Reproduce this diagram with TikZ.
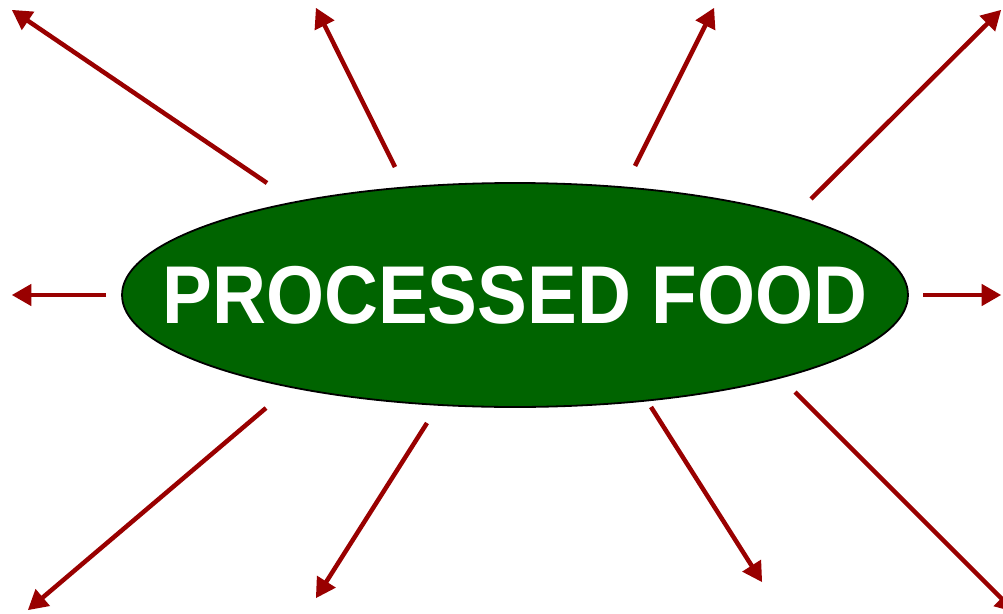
\documentclass[tikz,border=0pt]{standalone}
\usepackage{fontspec}
\setmainfont{Liberation Sans}
\usepackage{tikz}
\usetikzlibrary{arrows,shapes.geometric}

\definecolor{foodgreen}{RGB}{0,100,0}
\definecolor{arrowred}{RGB}{153,0,0}

\begin{document}
\begin{tikzpicture}[x=1pt,y=-1pt,line width=4.5pt,
    spoke/.style={arrowred,-{triangle 60}}]
  \useasboundingbox (0,0) rectangle (1003,613);

  \node[ellipse,draw=black,line width=1.8pt,fill=foodgreen,
    minimum width=786pt,minimum height=224pt,inner sep=0pt] (food) at (515,295) {};
  \node[text=white,font=\bfseries\fontsize{82}{90}\selectfont] (title) at (food.center)
    {\scalebox{0.91}[1]{PROCESSED FOOD}};

  \coordinate (s1) at (267,183);  \coordinate (e1) at (12,10);
  \coordinate (s2) at (395,167);  \coordinate (e2) at (316,8);
  \coordinate (s3) at (635,166);  \coordinate (e3) at (714,8);
  \coordinate (s4) at (811,199);  \coordinate (e4) at (1001,10);
  \coordinate (s5) at (106,295);  \coordinate (e5) at (12,295);
  \coordinate (s6) at (923,295);  \coordinate (e6) at (1001,295);
  \coordinate (s7) at (266,408);  \coordinate (e7) at (28,610);
  \coordinate (s8) at (427,423);  \coordinate (e8) at (316,598);
  \coordinate (s9) at (651,407);  \coordinate (e9) at (762,582);
  \coordinate (s10) at (795,392); \coordinate (e10) at (1015,612);

  \draw[spoke] (s1) -- (e1);
  \draw[spoke] (s2) -- (e2);
  \draw[spoke] (s3) -- (e3);
  \draw[spoke] (s4) -- (e4);
  \draw[spoke] (s5) -- (e5);
  \draw[spoke] (s6) -- (e6);
  \draw[spoke] (s7) -- (e7);
  \draw[spoke] (s8) -- (e8);
  \draw[spoke] (s9) -- (e9);
  \draw[spoke] (s10) -- (e10);
\end{tikzpicture}
\end{document}
